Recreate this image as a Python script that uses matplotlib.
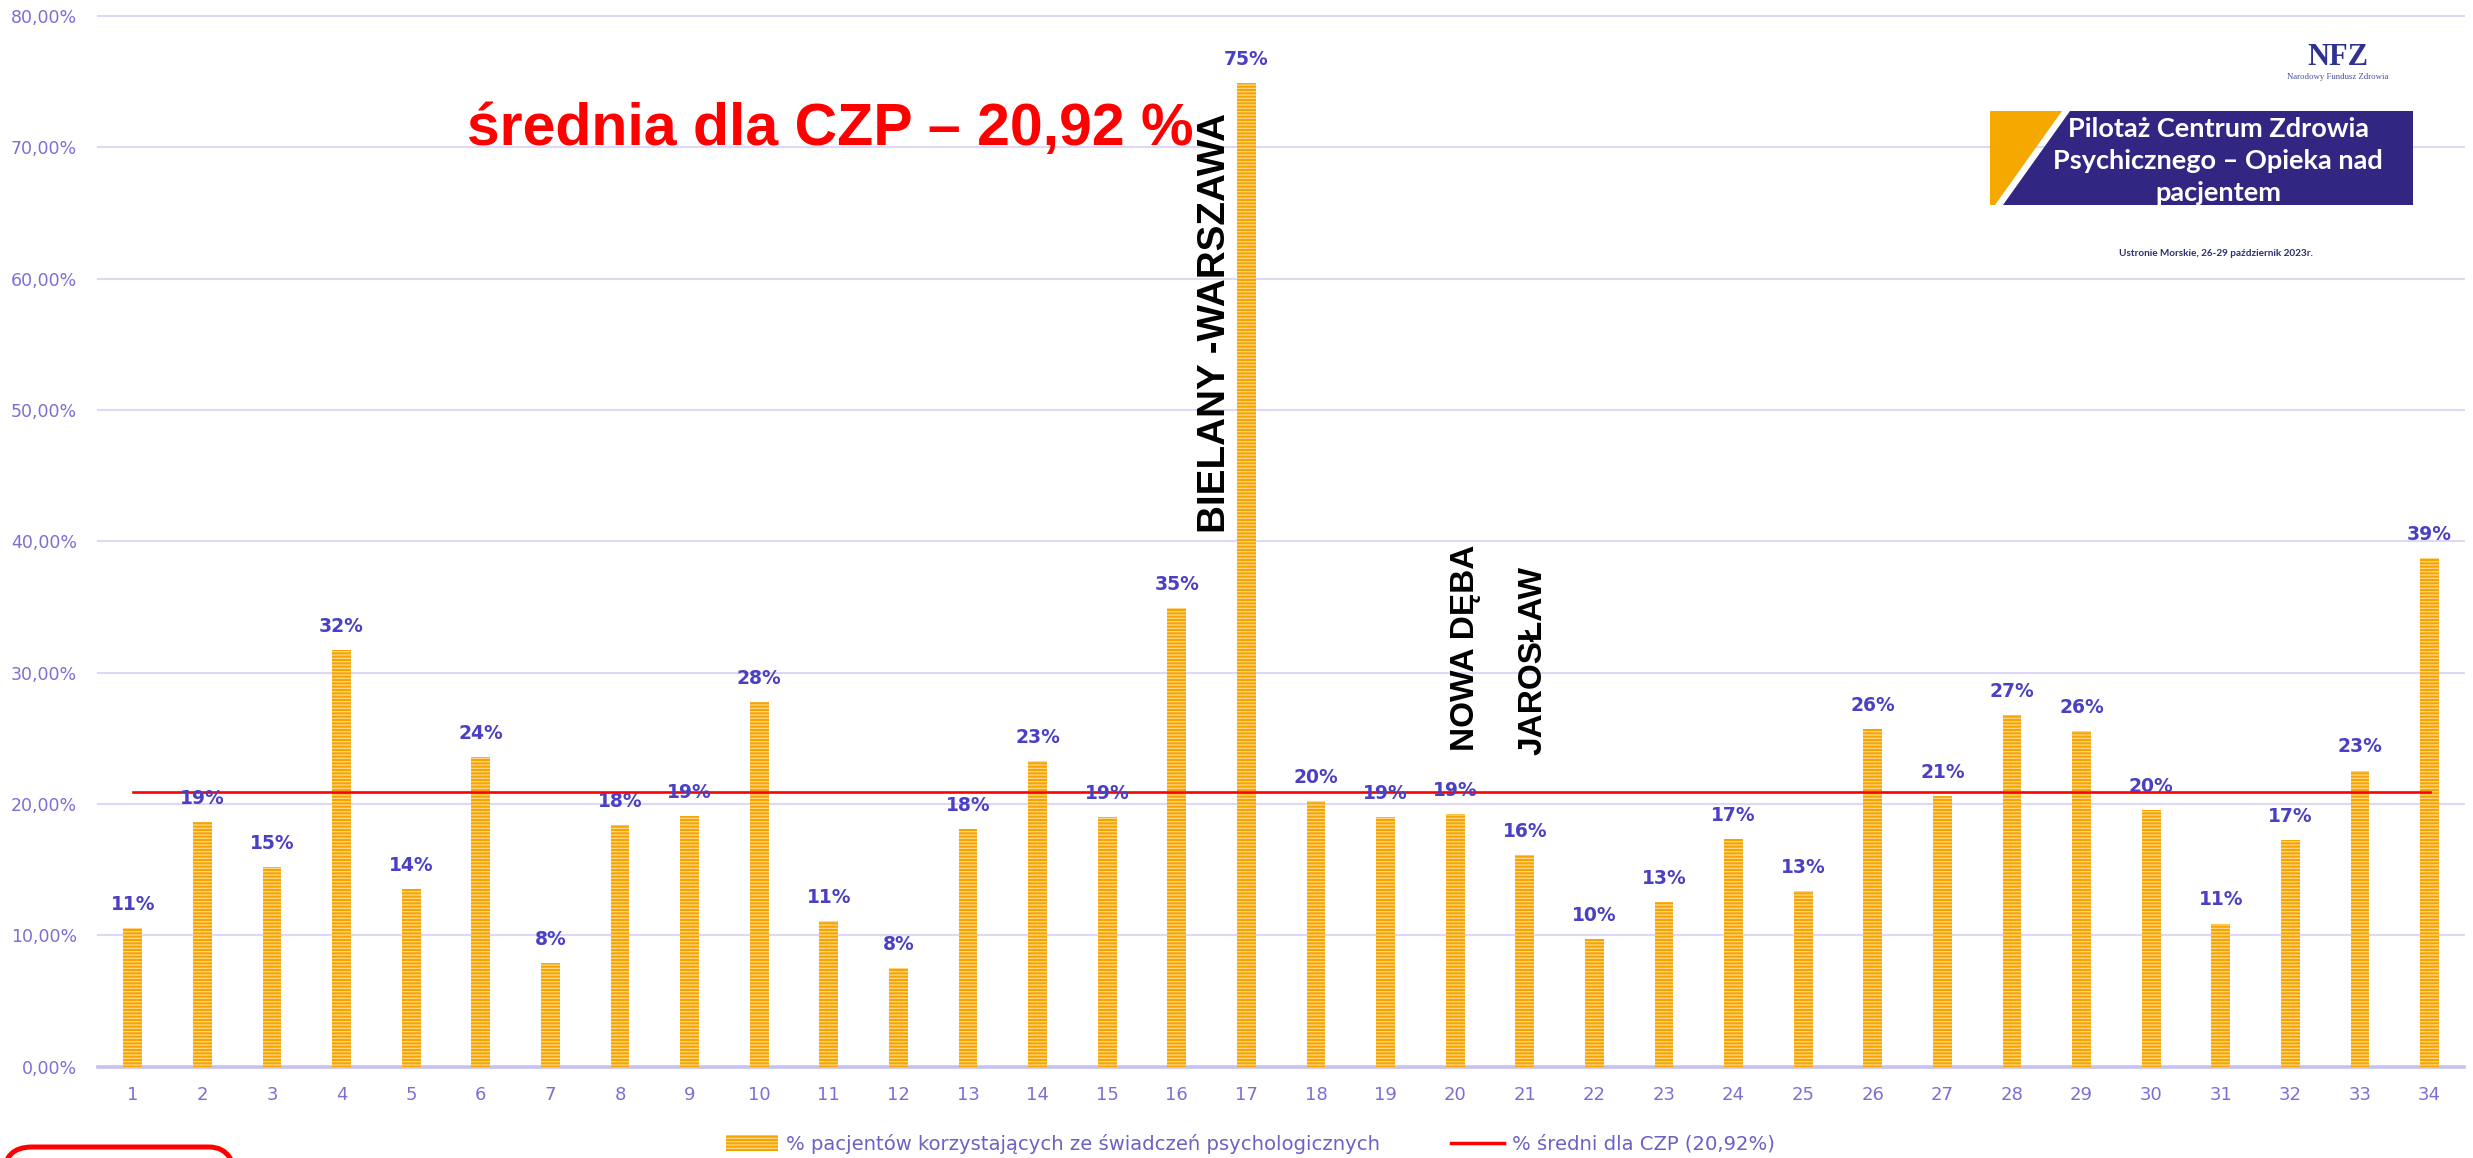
import matplotlib
matplotlib.use("Agg")
import matplotlib.pyplot as plt
from matplotlib.patches import Patch, Polygon, FancyBboxPatch
from matplotlib.lines import Line2D
from matplotlib.transforms import IdentityTransform

# ---------------- data ----------------
categories = list(range(1, 35))
values = [10.55, 18.6, 15.2, 31.7, 13.55, 23.6, 7.9, 18.4, 19.1, 27.8,
          11.1, 7.5, 18.1, 23.3, 19.0, 34.9, 74.9, 20.2, 19.0, 19.25,
          16.1, 9.7, 12.55, 17.35, 13.4, 25.7, 20.6, 26.8, 25.55, 19.55,
          10.9, 17.25, 22.55, 38.7]
mean_value = 20.92
y_ticks = [0, 10, 20, 30, 40, 50, 60, 70, 80]
bar_series_name = "% pacjentów korzystających ze świadczeń psychologicznych"
line_series_name = "% średni dla CZP (20,92%)"
title_text = "średnia dla CZP – 20,92 %"
annotations = [("BIELANY -WARSZAWA", 16.69, 40.6, 27.8),
               ("NOWA DĘBA", 20.27, 24.0, 24),
               ("JAROSŁAW", 21.24, 23.7, 24)]
banner_lines = ["Pilotaż Centrum Zdrowia", "Psychicznego – Opieka nad", "pacjentem"]
event_text = "Ustronie Morskie, 26-29 październik 2023r."

# ---------------- style ----------------
W, H = 2473, 1158
plt.rcParams['font.family'] = ['DejaVu Sans']
plt.rcParams['hatch.linewidth'] = 0.9

BAR_FACE = '#F5A300'
BAR_HATCH = '#FFD88A'
TICK_COL = '#7A70D4'
LABEL_COL = '#4B40C4'
GRID_COL = '#DCD8F5'
NAVY = '#312783'
ORANGE = '#F5A800'

fig = plt.figure(figsize=(W / 100, H / 100), dpi=100)
ax_left, ax_right, ax_top, ax_bottom = 98, 2464.4, 16, 1066.7
ax = fig.add_axes([ax_left / W, 1 - ax_bottom / H,
                   (ax_right - ax_left) / W, (ax_bottom - ax_top) / H])

ax.set_xlim(0.5, 34.5)
ax.set_ylim(0, 80)
for s in ax.spines.values():
    s.set_visible(False)

for t in y_ticks[1:]:
    ax.axhline(t, color=GRID_COL, lw=1.5, zorder=0, clip_on=False)
ax.axhline(0, color='#C6C1EE', lw=2.6, zorder=0, clip_on=False)

bars = ax.bar(categories, values, width=0.27, color=BAR_FACE,
              edgecolor=BAR_HATCH, linewidth=0, hatch='-----', zorder=2)

ax.plot(categories, [mean_value] * len(categories), color='#FF0000',
        lw=1.9, zorder=3)

for x, v in zip(categories, values):
    ax.annotate(f"{v:.0f}%", (x, v), xytext=(0, 13), textcoords='offset points',
                ha='center', va='baseline', fontsize=13.5, fontweight='bold',
                color=LABEL_COL, zorder=4)

ax.set_yticks(y_ticks)
ax.set_yticklabels([f"{t:.2f}".replace('.', ',') + '%' for t in y_ticks])
ax.set_xticks(categories)
ax.set_xticklabels([str(c) for c in categories])
ax.tick_params(axis='y', length=0, pad=15, labelsize=12.5, labelcolor=TICK_COL)
ax.tick_params(axis='x', length=0, pad=14, labelsize=13, labelcolor=TICK_COL)

for txt, x, y, fs in annotations:
    ax.text(x, y, txt, rotation=90, rotation_mode='anchor', ha='left',
            va='baseline', fontsize=fs, fontweight='bold', color='black',
            family=['Liberation Sans'], zorder=5)

# title
fig.text(467 / W, 1 - 145 / H, title_text, ha='left', va='baseline',
         fontsize=42.5, fontweight='bold', color='#FF0000',
         family=['Liberation Sans'])

# legend
handles = [Patch(facecolor=BAR_FACE, edgecolor=BAR_HATCH, linewidth=0, hatch='-----'),
           Line2D([0], [0], color='#FF0000', lw=2.5)]
leg = fig.legend(handles, [bar_series_name, line_series_name], ncol=2,
                 loc='center', bbox_to_anchor=(1250 / W, 1 - 1144 / H),
                 frameon=False, fontsize=14.1, handlelength=2.7,
                 handleheight=0.9, handletextpad=0.4, columnspacing=3.6,
                 labelcolor='#6A62C4', borderpad=0, borderaxespad=0)

# logo / banner (decorative)
pix = lambda x, y: (x / W, 1 - y / H)
fig.text(*pix(2338, 65), "NFZ", ha='center', va='baseline', fontsize=22,
         fontweight='bold', color='#2E3192', family=['Liberation Serif'])
fig.text(*pix(2338, 79), "Narodowy Fundusz Zdrowia", ha='center', va='baseline',
         fontsize=6.3, color='#4A4F9E', family=['Liberation Serif'])
fig.patches.append(Polygon([pix(1990, 111), pix(2062, 111), pix(1995, 205), pix(1990, 205)],
                           closed=True, transform=fig.transFigure, facecolor=ORANGE,
                           edgecolor='none'))
fig.patches.append(Polygon([pix(2070, 111), pix(2413, 111), pix(2413, 205), pix(2003, 205)],
                           closed=True, transform=fig.transFigure, facecolor=NAVY,
                           edgecolor='none'))
for line, yc in zip(banner_lines, [127, 159, 191]):
    fig.text(*pix(2218, yc), line, ha='center', va='center_baseline', fontsize=19.5,
             fontweight='bold', color='white', family=['Lato', 'DejaVu Sans'])
fig.text(*pix(2216, 256), event_text, ha='center', va='baseline', fontsize=7.2,
         fontweight='bold', color='#2B2F6B', family=['Lato', 'DejaVu Sans'])

# red rounded frame at bottom-left
fig.patches.append(FancyBboxPatch((4, -60), 233, 71, boxstyle='round,pad=0,rounding_size=28',
                                  transform=IdentityTransform(), facecolor='none',
                                  edgecolor='#FF0000', lw=3.6))

fig.savefig('out.png', dpi=100)
